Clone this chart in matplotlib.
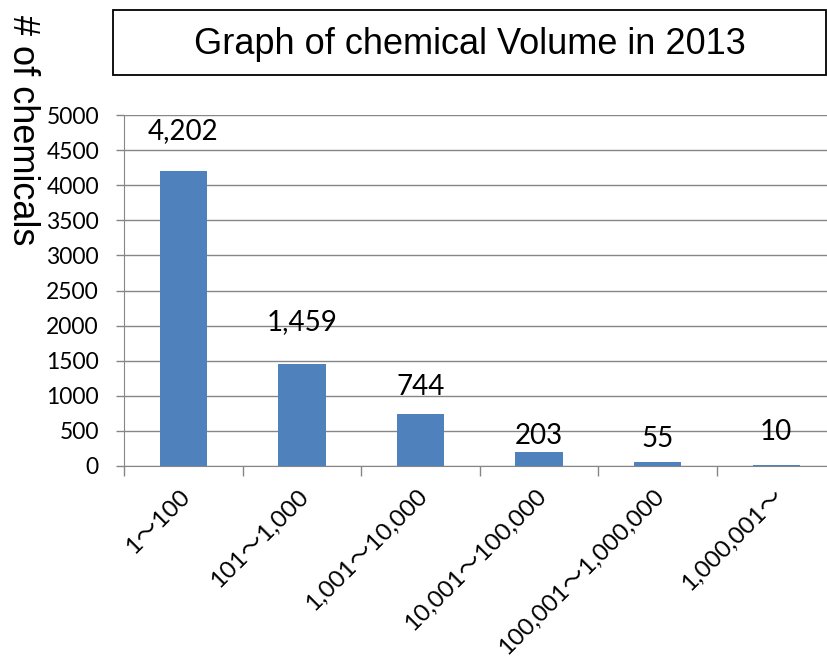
import matplotlib
matplotlib.use("Agg")
import matplotlib.pyplot as plt
from matplotlib.patches import Rectangle
from matplotlib.ticker import FixedLocator, NullFormatter

categories = ["1～100", "101～1,000", "1,001～10,000", "10,001～100,000",
              "100,001～1,000,000", "1,000,001～"]
counts = [4202, 1459, 744, 203, 55, 10]
label_texts = ["4,202", "1,459", "744", "203", "55", "10"]
label_offsets_pt = [29, 30, 19, 11, 17, 24]
yticks = [0, 500, 1000, 1500, 2000, 2500, 3000, 3500, 4000, 4500, 5000]

W, H = 828, 656
fig = plt.figure(figsize=(W / 100, H / 100), dpi=100)
ax = fig.add_axes([124 / W, 1 - 466 / H, (W - 124) / W, (466 - 115) / H])

x = list(range(len(categories)))
ax.bar(x, counts, width=0.4, color="#4F81BD", zorder=3)
ax.set_xlim(-0.5, -0.5 + (W - 124) / 118.6)
ax.set_ylim(0, 5000)

ax.set_yticks(yticks)
ax.set_yticklabels([str(v) for v in yticks], fontsize=16.5, family=["Lato", "DejaVu Sans"])
ax.yaxis.grid(True, color="#868686", linewidth=1.0, zorder=0)
ax.tick_params(axis="y", length=6, color="#868686", width=1, pad=12)

ax.xaxis.set_major_locator(FixedLocator([i - 0.5 for i in range(len(categories) + 1)]))
ax.xaxis.set_major_formatter(NullFormatter())
ax.tick_params(axis="x", length=7, color="#868686", width=1)
for i, c in enumerate(categories):
    ax.annotate(c, xy=(i, 0), xycoords="data", xytext=(-3, -14), textcoords="offset points",
                rotation=45, ha="right", va="top", rotation_mode="anchor",
                fontsize=17.5, family=["Lato", "Noto Sans CJK JP", "DejaVu Sans"])

for sp in ["top", "right"]:
    ax.spines[sp].set_visible(False)
ax.spines["left"].set_color("#868686")
ax.spines["bottom"].set_color("#868686")

for i, (v, t, off) in enumerate(zip(counts, label_texts, label_offsets_pt)):
    ax.annotate(t, xy=(i, v), xytext=(0, off), textcoords="offset points",
                ha="center", va="center", fontsize=20, family=["Lato", "DejaVu Sans"])

# title box
fig.patches.append(Rectangle((113 / W, 1 - 75 / H), (826 - 113) / W, 65 / H,
                             transform=fig.transFigure, fill=False,
                             edgecolor="black", linewidth=1.3))
fig.text(470 / W, 1 - 44 / H, "Graph of chemical Volume in 2013", ha="center", va="center",
         fontsize=26, family="Liberation Sans")

fig.text(22 / W, 1 - 15 / H, "# of chemicals", rotation=270, ha="center", va="top",
         fontsize=26, family="Liberation Sans")

fig.savefig("out.png", dpi=100)
